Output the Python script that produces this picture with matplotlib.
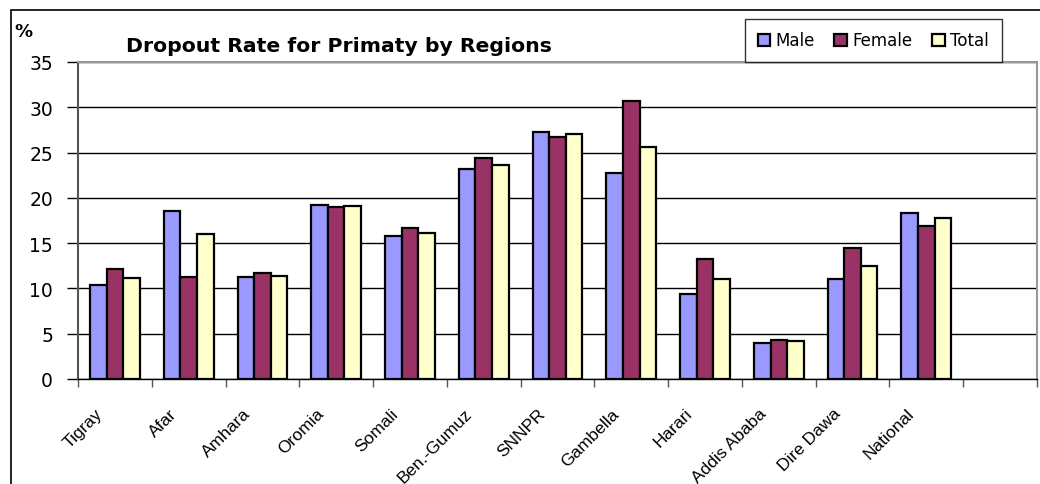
import numpy as np
import matplotlib
matplotlib.use("Agg")
import matplotlib.pyplot as plt
from matplotlib.patches import Rectangle

plt.rcParams['font.family'] = ['DejaVu Sans']

regions = ["Tigray", "Afar", "Amhara", "Oromia", "Somali", "Ben.-Gumuz", "SNNPR",
           "Gambella", "Harari", "Addis Ababa", "Dire Dawa", "National"]
male = [10.4, 18.5, 11.3, 19.2, 15.8, 23.2, 27.3, 22.7, 9.4, 4.0, 11.0, 18.3]
female = [12.1, 11.3, 11.7, 19.0, 16.7, 24.4, 26.7, 30.7, 13.3, 4.3, 14.5, 16.9]
total = [11.2, 16.0, 11.4, 19.1, 16.1, 23.6, 27.0, 25.6, 11.0, 4.2, 12.5, 17.8]
series = [("Male", male, "#9999FF"), ("Female", female, "#993366"), ("Total", total, "#FFFFCC")]
n_slots = 13  # one empty slot at the end

fig = plt.figure(figsize=(10.4, 4.85), dpi=100)
ax = fig.add_axes([78 / 1040, 1 - 380 / 485, 959 / 1040, 317 / 485])

# outer chart border
fig.patches.append(Rectangle((11 / 1040, -0.1), 1.2, 1 - 11 / 485 + 0.1,
                             transform=fig.transFigure, fill=False,
                             edgecolor="black", linewidth=1.2))

x = np.arange(len(regions))
w = 0.225
for i, (name, vals, col) in enumerate(series):
    ax.bar(x + (i - 1) * w, vals, width=w, color=col, edgecolor="black",
           linewidth=1.6, label=name, zorder=3)

ax.set_xlim(-0.5, n_slots - 0.5)
ax.set_ylim(0, 35)
ax.set_yticks(np.arange(0, 36, 5))
ax.yaxis.grid(True, color="black", linewidth=1.0, zorder=0)
ax.set_axisbelow(True)

# labels sit a little left of the slot centre, like the original
ax.set_xticks(x - 0.27)
ax.set_xticklabels(regions, rotation=45, ha="right", rotation_mode="anchor",
                   fontsize=12.5, family=["Liberation Sans", "DejaVu Sans"])
ax.set_xticks(np.arange(-0.5, n_slots, 1), minor=True)
ax.tick_params(axis="x", which="major", length=0, pad=19)
ax.tick_params(axis="x", which="minor", length=6, width=1, color="#555555", direction="out")
ax.tick_params(axis="y", length=8, width=1, labelsize=13.5, pad=10)

for s in ["top", "right"]:
    ax.spines[s].set_color("#999999")
    ax.spines[s].set_linewidth(1.5)
ax.spines["left"].set_color("#555555")
ax.spines["left"].set_linewidth(1.5)
ax.spines["bottom"].set_color("black")
ax.spines["bottom"].set_linewidth(1.0)

fig.text(339 / 1040, 1 - 46 / 485, "Dropout Rate for Primaty by Regions",
         ha="center", va="center", fontsize=14.7, fontweight="bold")
fig.text(14 / 1040, 1 - 32 / 485, "%", ha="left", va="center",
         fontsize=13, fontweight="bold")

leg = ax.legend(loc="lower left", bbox_to_anchor=(745 / 1040, 1 - 63 / 485),
                bbox_transform=fig.transFigure, ncol=3, frameon=True, fancybox=False,
                fontsize=12, handlelength=0.75, handleheight=0.75, handletextpad=0.35,
                columnspacing=1.15, borderpad=0.75, borderaxespad=0)
leg.get_frame().set_edgecolor("black")
leg.get_frame().set_linewidth(1.0)
for h in leg.legend_handles:
    h.set_linewidth(1.6)

fig.savefig("out.png", dpi=100)
